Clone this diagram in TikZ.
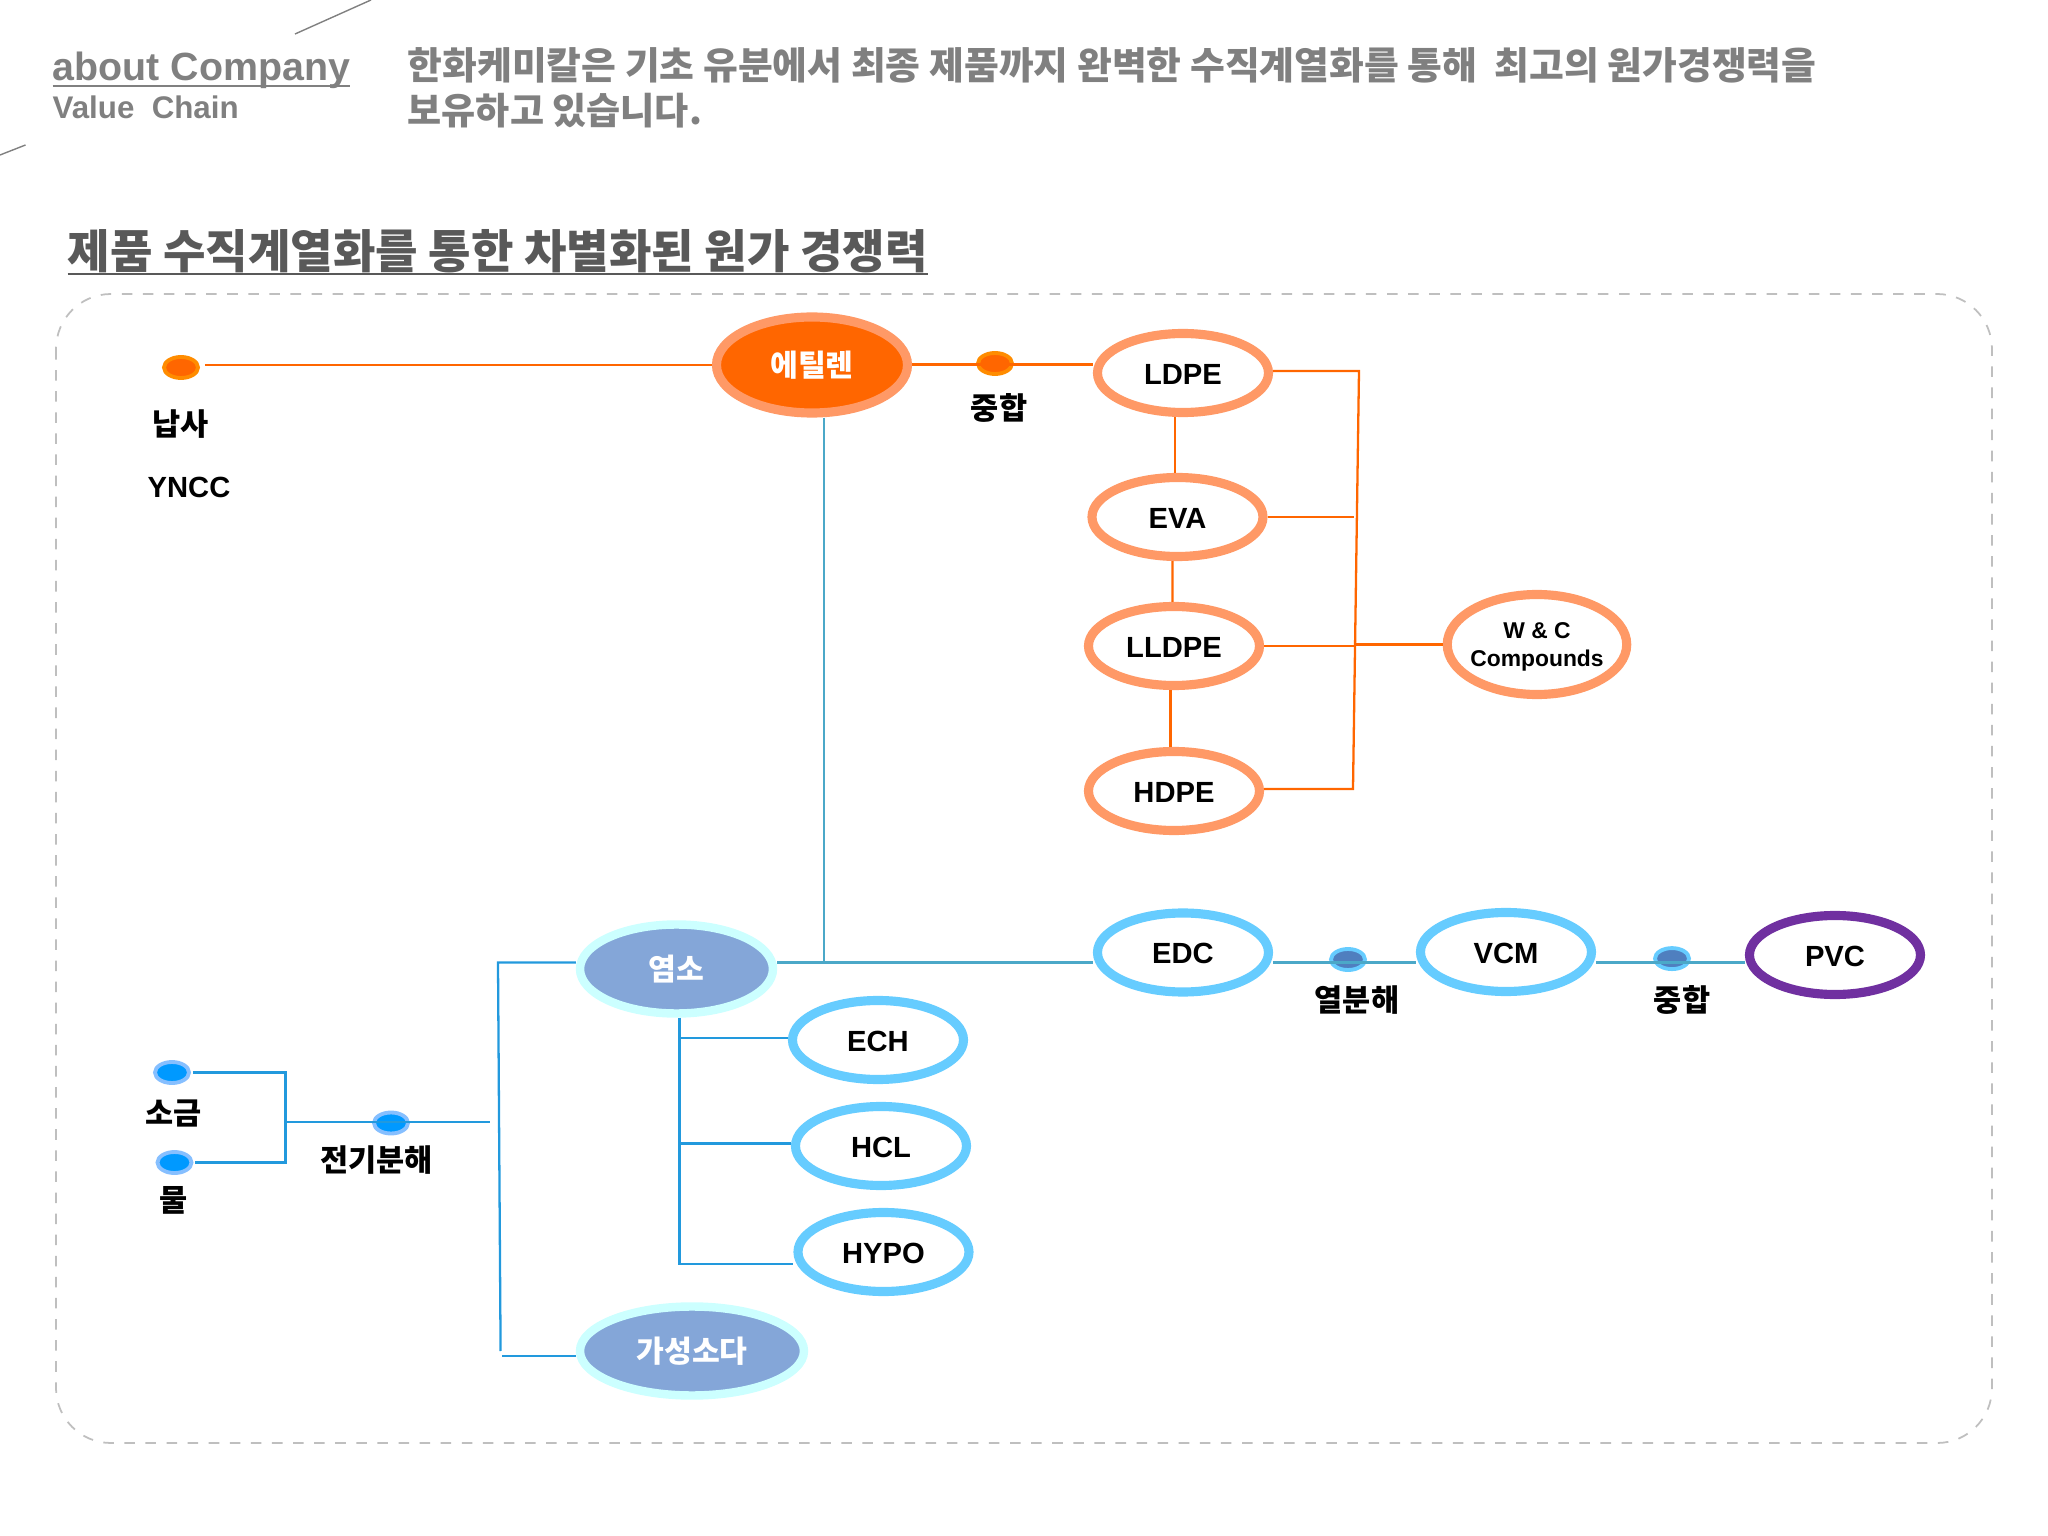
\documentclass[tikz,border=0pt]{standalone}
\usepackage{fontspec}
\usepackage{tikz}
\usetikzlibrary{shapes.geometric}
\setmainfont{Liberation Sans}
\newfontfamily\kor{Noto Sans CJK KR}
\definecolor{ringorange}{HTML}{FF9966}
\definecolor{lineorange}{HTML}{FF6600}
\definecolor{ringblue}{HTML}{66CCFF}
\definecolor{linesky}{HTML}{2299DD}
\definecolor{lineteal}{HTML}{4BA8C8}
\definecolor{gasfill}{HTML}{84A6D8}
\definecolor{gasring}{HTML}{CCFFFF}
\definecolor{ringviolet}{HTML}{7030A0}
\definecolor{dotsteel}{HTML}{4F7FBF}
\tikzset{
  resin/.style={ellipse,draw=ringorange,fill=white,line width=2.6pt,minimum width=1.71cm,minimum height=0.79cm,inner sep=0pt,text height=6.3pt,text depth=0pt,font=\bfseries\fontsize{8.3}{8.3}\selectfont},
  blueresin/.style={resin,draw=ringblue},
  gas/.style={ellipse,draw=gasring,fill=gasfill,line width=2.4pt,text=white,minimum height=0.89cm,inner sep=0pt,font=\kor\bfseries\fontsize{8.6}{8.6}\selectfont},
  dot/.style={ellipse,line width=1.1pt,minimum width=0.34cm,minimum height=0.21cm,inner sep=0pt},
  orangedot/.style={dot,draw=orange!90!yellow,fill=lineorange},
  bluedot/.style={dot,draw=blue!20!ringblue!70,fill=blue!40!cyan},
  steeldot/.style={dot,draw=ringblue,fill=dotsteel},
  lab/.style={font=\kor\bfseries\fontsize{8.7}{8.7}\selectfont,inner sep=0pt},
  oline/.style={lineorange,line width=0.65pt},
  bline/.style={linesky,line width=0.65pt},
  tline/.style={lineteal,line width=0.7pt},
  head/.style={anchor=base west,text=black!50,inner sep=0pt}
}
\begin{document}
\begin{tikzpicture}[x=1cm,y=-1cm]
    \useasboundingbox (0,0) rectangle (20.48,15.36);
    % draw header
    \coordinate (slashA) at (2.95,0.34);
    \coordinate (slashB) at (3.71,0);
    \coordinate (slashC) at (0,1.55);
    \coordinate (slashD) at (0.255,1.45);
    \draw[black!50,line width=0.4pt] (slashA) -- (slashB);
    \draw[black!50,line width=0.4pt] (slashC) -- (slashD);
    \node[head,font=\bfseries\fontsize{11.2}{11.2}\selectfont] (about) at (0.52,0.81) {\underline{\smash{about Company}}};
    \node[head,font=\bfseries\fontsize{8.9}{8.9}\selectfont] (chain) at (0.52,1.19) {Value\ \ Chain};
    \node[head,font=\kor\bfseries\fontsize{10.76}{10.76}\selectfont] (introA) at (4.07,0.80) {한화케미칼은 기초 유분에서 최종 제품까지 완벽한 수직계열화를 통해\ \ 최고의 원가경쟁력을};
    \node[head,font=\kor\bfseries\fontsize{10.55}{10.55}\selectfont] (introB) at (4.07,1.25) {보유하고 있습니다.};
    \node[head,text=black!65,font=\kor\bfseries\fontsize{13.14}{13.14}\selectfont] (title) at (0.67,2.69) {\underline{\smash{제품 수직계열화를 통한 차별화된 원가 경쟁력}}};

    % draw frame
    \draw[black!25,line width=0.5pt,dashed,rounded corners=0.55cm] (0.56,2.94) rectangle (19.92,14.43);

    % draw nodes
    \node[ellipse,draw=ringorange,fill=lineorange,line width=2.6pt,minimum width=1.91cm,minimum height=0.96cm,inner sep=0pt,text=white,font=\kor\bfseries\fontsize{8.6}{8.6}\selectfont] (ethylene) at (8.12,3.65) {에틸렌};
    \node[gas,minimum width=1.93cm] (chlorine) at (6.765,9.69) {염소};
    \node[gas,minimum width=2.24cm] (soda) at (6.92,13.51) {가성소다};
    \foreach \name/\x/\y in {LDPE/11.83/3.73,EVA/11.775/5.17,LLDPE/11.74/6.46,HDPE/11.74/7.91}
      \node[resin] (\name) at (\x,\y) {\name};
    \foreach \name/\x/\y in {ECH/8.78/10.40,HCL/8.81/11.46,HYPO/8.835/12.52,EDC/11.83/9.525,VCM/15.06/9.52}
      \node[blueresin] (\name) at (\x,\y) {\name};
    \node[resin,draw=ringviolet] (PVC) at (18.35,9.55) {PVC};
    \node[resin,minimum width=1.79cm,minimum height=1cm,inner xsep=-0.9pt,align=center,text height=14.2pt,text depth=1.4pt,font=\bfseries\fontsize{6.5}{8}\selectfont] (compounds) at (15.37,6.445) {W \& C\\Compounds};

    % draw dots
    \node[orangedot] (naphtha) at (1.81,3.675) {};
    \node[orangedot] (polyA) at (9.95,3.635) {};
    \node[bluedot] (salt) at (1.72,10.725) {};
    \node[bluedot] (water) at (1.745,11.625) {};
    \node[bluedot] (electro) at (3.91,11.23) {};
    \node[steeldot] (crack) at (13.48,9.595) {};
    \node[steeldot] (polyB) at (16.72,9.586) {};

    % draw labels
    \node[lab] (naphthaL) at (1.81,4.245) {납사};
    \node[lab,font=\bfseries\fontsize{8.3}{8.3}\selectfont] (yncc) at (1.89,4.875) {YNCC};
    \node[lab] (polyAL) at (9.99,4.08) {중합};
    \node[lab] (saltL) at (1.735,11.135) {소금};
    \node[lab] (waterL) at (1.74,12.005) {물};
    \node[lab] (electroL) at (3.765,11.605) {전기분해};
    \node[lab] (crackL) at (13.57,10.0) {열분해};
    \node[lab] (polyBL) at (16.82,10.0) {중합};

    % draw orange lines
    \draw[oline] ([xshift=0.05cm]naphtha.east |- ethylene.west) -- (ethylene.west);
    \coordinate (ldpeIn) at (10.93,3.645);
    \draw[oline] (ethylene.east |- ldpeIn) -- (ldpeIn);
    \draw[oline] ([xshift=-0.08cm]LDPE.south) -- ([xshift=-0.025cm]EVA.north);
    \draw[oline] ([xshift=-0.05cm]EVA.south) -- ([xshift=-0.015cm]LLDPE.north);
    \draw[oline] ([xshift=-0.035cm]LLDPE.south) -- ([xshift=-0.035cm]HDPE.north);
    \coordinate (busTop) at (13.59,3.71);
    \coordinate (busEnd) at (13.53,7.89);
    \coordinate (busMid) at (13.56,6.445);
    \coordinate (busEva) at (13.54,5.17);
    \draw[oline] (LDPE.east |- busTop) -- (busTop) -- (busEnd) -- (HDPE.east |- busEnd);
    \draw[oline] (EVA.east) -- (busEva);
    \draw[oline] (LLDPE.east) -- (LLDPE.east -| busMid);
    \draw[oline] (busMid) -- (compounds.west);

    % draw blue lines
    \coordinate (tee) at (8.24,9.625);
    \draw[tline] (ethylene.south -| tee) -- (tee);
    \draw[tline] (chlorine.east |- tee) -- (tee) -- (EDC.west |- tee);
    \draw[tline] (EDC.east |- tee) -- (VCM.west |- tee);
    \draw[tline] (VCM.east |- tee) -- (PVC.west |- tee);
    \coordinate (electroFork) at (2.855,11.22);
    \coordinate (electroOut) at (4.90,11.22);
    \draw[bline] ([xshift=0.02cm]salt.east) -- (salt.east -| electroFork) -- (water.east -| electroFork) -- ([xshift=0.02cm]water.east);
    \draw[bline] (electroFork) -- (electroOut);
    \coordinate (busA) at (4.98,9.625);
    \coordinate (busB) at (5.006,13.51);
    \coordinate (sodaIn) at (5.02,13.56);
    \draw[bline] (chlorine.west |- busA) -- (busA) -- (busB);
    \draw[bline] (soda.west |- sodaIn) -- (sodaIn);
    \coordinate (subBus) at (6.794,12.64);
    \coordinate (echIn) at (6.794,10.38);
    \coordinate (hclIn) at (6.794,11.436);
    \draw[bline] (chlorine.south -| subBus) -- (subBus) -- (HYPO.west |- subBus);
    \draw[bline] (echIn) -- (ECH.west |- echIn);
    \draw[bline] (hclIn) -- (HCL.west |- hclIn);
\end{tikzpicture}
\end{document}
